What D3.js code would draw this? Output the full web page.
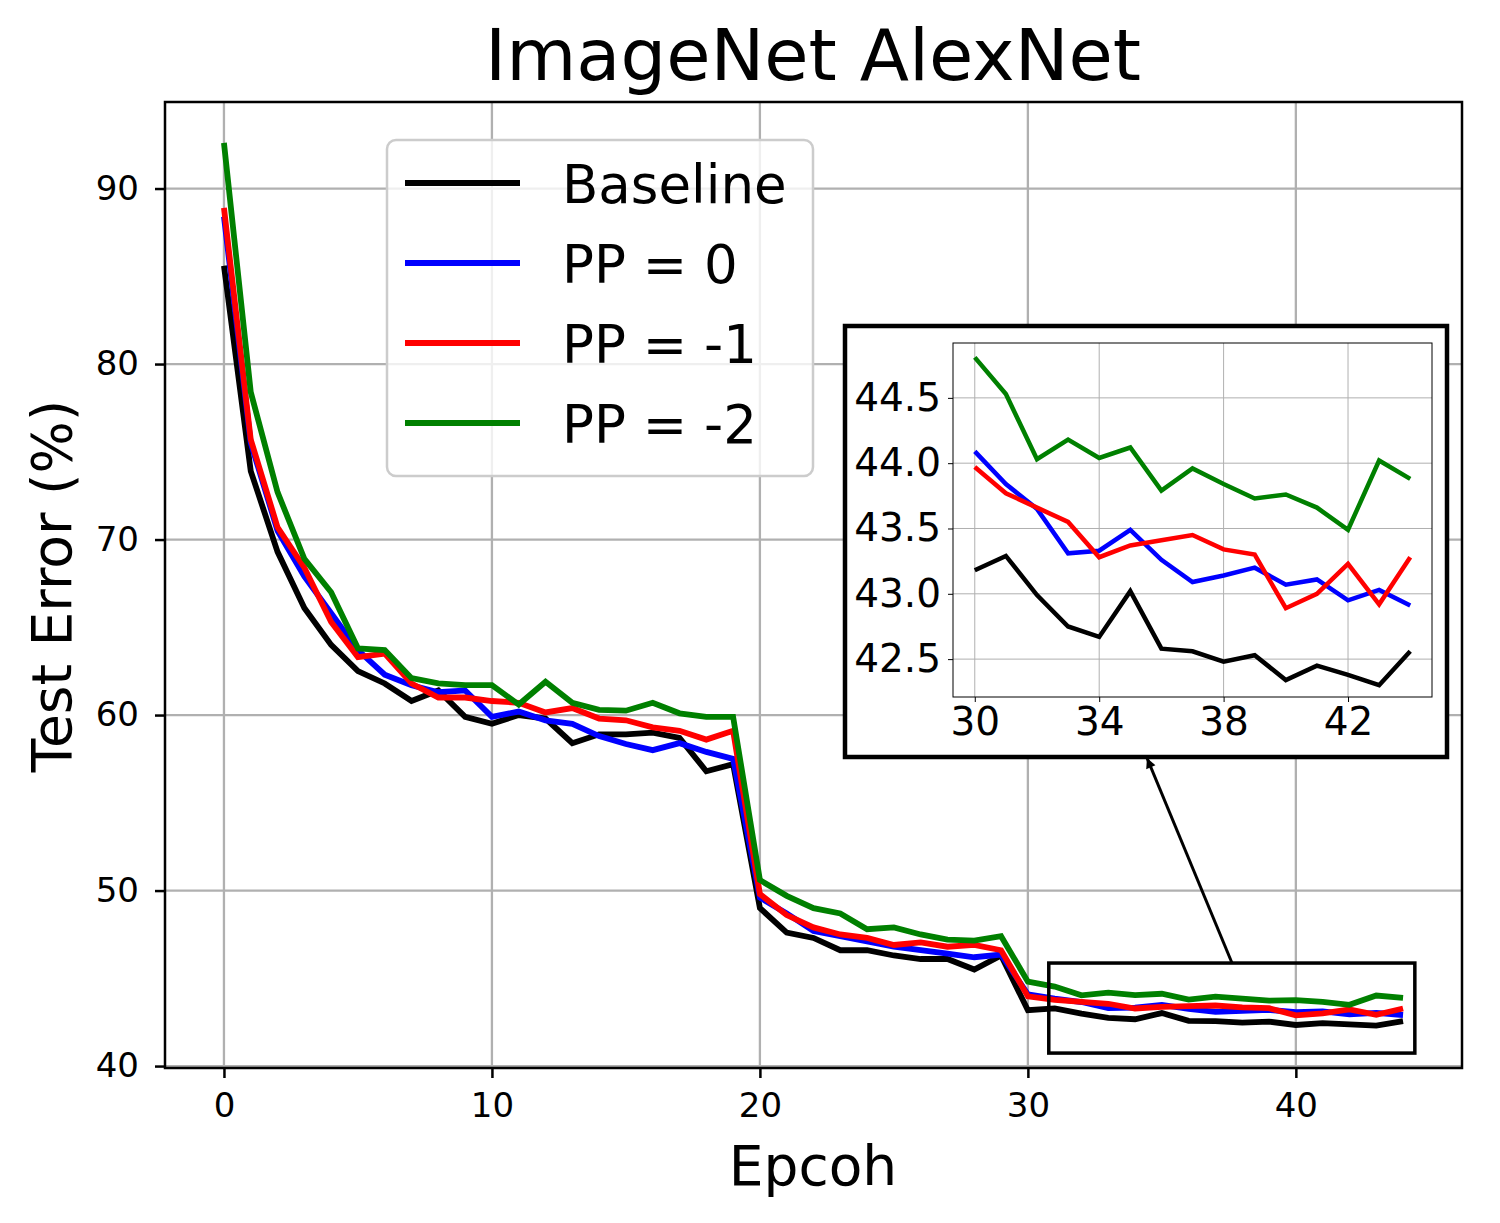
<!DOCTYPE html>
<html>
<head>
<meta charset="utf-8">
<script src="https://cdn.jsdelivr.net/npm/d3@7"></script>
<style>
  body { margin: 0; background: #fff; }
  text { font-family: "DejaVu Sans", sans-serif; }
</style>
</head>
<body>
<div id="chart"></div>
<script>
// ---- data ----
const epochs = d3.range(0, 45);
const baseline = [85.6, 73.9, 69.3, 66.1, 64.0, 62.5, 61.8, 60.8, 61.4, 59.9,
  59.5, 60.0, 59.8, 58.4, 58.9, 58.9, 59.0, 58.7, 56.8, 57.2,
  49.0, 47.6, 47.3, 46.6, 46.6, 46.3, 46.1, 46.1, 45.5, 46.3,
  43.18, 43.29, 42.99, 42.75, 42.67, 43.02, 42.58, 42.56, 42.48, 42.53,
  42.34, 42.45, 42.38, 42.30, 42.56];
const pp0 = [88.4, 75.5, 70.5, 67.9, 65.8, 63.7, 62.3, 61.7, 61.3, 61.4,
  59.9, 60.2, 59.7, 59.5, 58.8, 58.35, 58.0, 58.4, 57.9, 57.5,
  49.6, 48.7, 47.7, 47.4, 47.1, 46.8, 46.6, 46.4, 46.2, 46.35,
  44.09, 43.84, 43.65, 43.31, 43.33, 43.49, 43.26, 43.09, 43.14, 43.20,
  43.07, 43.11, 42.95, 43.03, 42.91];
const ppm1 = [88.9, 75.7, 70.7, 68.4, 65.3, 63.3, 63.5, 61.8, 61.0, 61.0,
  60.8, 60.7, 60.15, 60.4, 59.8, 59.7, 59.3, 59.1, 58.6, 59.1,
  49.8, 48.6, 47.9, 47.5, 47.3, 46.9, 47.05, 46.8, 46.9, 46.6,
  43.97, 43.77, 43.66, 43.55, 43.28, 43.37, 43.41, 43.45, 43.34, 43.30,
  42.89, 43.00, 43.23, 42.92, 43.28];
const ppm2 = [92.6, 78.4, 72.7, 68.9, 67.0, 63.8, 63.7, 62.1, 61.8, 61.7,
  61.7, 60.6, 61.9, 60.7, 60.3, 60.25, 60.7, 60.1, 59.9, 59.9,
  50.6, 49.7, 49.0, 48.7, 47.8, 47.9, 47.5, 47.2, 47.15, 47.4,
  44.81, 44.53, 44.03, 44.18, 44.04, 44.12, 43.79, 43.96, 43.84, 43.73,
  43.76, 43.66, 43.49, 44.02, 43.88];

const seriesNames = ["Baseline", "PP = 0", "PP = -1", "PP = -2"];
const seriesColors = ["black", "blue", "red", "green"];
const seriesValues = [baseline, pp0, ppm1, ppm2];

const xTicks = [0, 10, 20, 30, 40];
const yTicks = [40, 50, 60, 70, 80, 90];
const insetXTicks = [30, 34, 38, 42];
const insetYTicks = [42.5, 43.0, 43.5, 44.0, 44.5];
const zoomBox = [30.78, 44.44, 40.74, 45.87]; // x0, x1, y0, y1

// ---- layout ----
const W = 1500, H = 1223;
const svg = d3.select("#chart").append("svg")
  .attr("width", W).attr("height", H);

const plot = {left: 165, right: 1462, top: 102, bottom: 1068};
const x = d3.scaleLinear().domain([-2.2, 46.2]).range([plot.left, plot.right]);
const y = d3.scaleLinear().domain([39.89, 94.93]).range([plot.bottom, plot.top]);

// grid
const grid = svg.append("g");
grid.selectAll(".gx").data(xTicks).join("line")
  .attr("x1", d => x(d)).attr("x2", d => x(d))
  .attr("y1", plot.top).attr("y2", plot.bottom)
  .attr("stroke", "#b0b0b0").attr("stroke-width", 2.3);
grid.selectAll(".gy").data(yTicks).join("line")
  .attr("x1", plot.left).attr("x2", plot.right)
  .attr("y1", d => y(d)).attr("y2", d => y(d))
  .attr("stroke", "#b0b0b0").attr("stroke-width", 2.3);

// axes
const xAxis = svg.append("g")
  .attr("transform", `translate(0,${plot.bottom})`)
  .call(d3.axisBottom(x).tickValues(xTicks).tickSize(10).tickPadding(15));
const yAxis = svg.append("g")
  .attr("transform", `translate(${plot.left},0)`)
  .call(d3.axisLeft(y).tickValues(yTicks).tickSize(10).tickPadding(16));
[xAxis, yAxis].forEach(a => {
  a.select(".domain").remove();
  a.selectAll("line").attr("stroke", "black").attr("stroke-width", 2.5);
  a.selectAll("text").attr("font-size", 34).attr("fill", "black")
    .style("font-family", "DejaVu Sans");
});

// lines
const line = d3.line().x((d, i) => x(epochs[i])).y(d => y(d));
svg.append("g").selectAll("path").data(seriesValues).join("path")
  .attr("d", line)
  .attr("fill", "none")
  .attr("stroke", (d, i) => seriesColors[i])
  .attr("stroke-width", 5.8)
  .attr("stroke-linejoin", "miter")
  .attr("stroke-miterlimit", 3);

// frame
svg.append("rect")
  .attr("x", plot.left).attr("y", plot.top)
  .attr("width", plot.right - plot.left).attr("height", plot.bottom - plot.top)
  .attr("fill", "none").attr("stroke", "black").attr("stroke-width", 2.5);

// zoom rectangle in main plot
svg.append("rect")
  .attr("x", x(zoomBox[0])).attr("y", y(zoomBox[3]))
  .attr("width", x(zoomBox[1]) - x(zoomBox[0]))
  .attr("height", y(zoomBox[2]) - y(zoomBox[3]))
  .attr("fill", "none").attr("stroke", "black").attr("stroke-width", 3.5);

// arrow from zoom box to inset
svg.append("defs").append("marker")
  .attr("id", "arrowhead")
  .attr("viewBox", "0 0 10 10").attr("refX", 10).attr("refY", 5)
  .attr("markerWidth", 12).attr("markerHeight", 10)
  .attr("markerUnits", "userSpaceOnUse")
  .attr("orient", "auto")
  .append("path").attr("d", "M0,0 L10,5 L0,10 Z").attr("fill", "black");
svg.append("line")
  .attr("x1", 1232).attr("y1", y(zoomBox[3]))
  .attr("x2", 1147).attr("y2", 758)
  .attr("stroke", "black").attr("stroke-width", 3)
  .attr("marker-end", "url(#arrowhead)");

// labels
svg.append("text").attr("x", 813).attr("y", 80)
  .attr("text-anchor", "middle").attr("font-size", 72).text("ImageNet AlexNet");
svg.append("text").attr("x", 813).attr("y", 1185)
  .attr("text-anchor", "middle").attr("font-size", 55).text("Epcoh");
svg.append("text")
  .attr("transform", "translate(71,586) rotate(-90)")
  .attr("text-anchor", "middle").attr("font-size", 55).text("Test Error (%)");

// legend
const legend = svg.append("g");
legend.append("rect")
  .attr("x", 387).attr("y", 140).attr("width", 426).attr("height", 336)
  .attr("rx", 9)
  .attr("fill", "white").attr("fill-opacity", 0.8)
  .attr("stroke", "#cccccc").attr("stroke-width", 2.5);
const items = legend.selectAll(".item").data(seriesNames).join("g")
  .attr("transform", (d, i) => `translate(0,${183 + i * 80})`);
items.append("line")
  .attr("x1", 405).attr("x2", 520)
  .attr("stroke", (d, i) => seriesColors[i]).attr("stroke-width", 5.8);
items.append("text")
  .attr("x", 562).attr("y", 20).attr("font-size", 53)
  .text(d => d);

// inset
svg.append("rect")
  .attr("x", 845).attr("y", 326).attr("width", 602).attr("height", 431)
  .attr("fill", "white").attr("stroke", "black").attr("stroke-width", 4.5);

const ip = {left: 953, right: 1432, top: 343, bottom: 697};
const ix = d3.scaleLinear().domain([29.3, 44.7]).range([ip.left, ip.right]);
const iy = d3.scaleLinear().domain([42.21, 44.92]).range([ip.bottom, ip.top]);

const ig = svg.append("g");
ig.selectAll(".igx").data(insetXTicks).join("line")
  .attr("x1", d => ix(d)).attr("x2", d => ix(d))
  .attr("y1", ip.top).attr("y2", ip.bottom)
  .attr("stroke", "#b0b0b0").attr("stroke-width", 1);
ig.selectAll(".igy").data(insetYTicks).join("line")
  .attr("x1", ip.left).attr("x2", ip.right)
  .attr("y1", d => iy(d)).attr("y2", d => iy(d))
  .attr("stroke", "#b0b0b0").attr("stroke-width", 1);

const ixAxis = svg.append("g")
  .attr("transform", `translate(0,${ip.bottom})`)
  .call(d3.axisBottom(ix).tickValues(insetXTicks).tickSize(5).tickPadding(5));
const iyAxis = svg.append("g")
  .attr("transform", `translate(${ip.left},0)`)
  .call(d3.axisLeft(iy).tickValues(insetYTicks).tickFormat(d3.format(".1f"))
    .tickSize(5).tickPadding(7));
[ixAxis, iyAxis].forEach(a => {
  a.select(".domain").remove();
  a.selectAll("line").attr("stroke", "black").attr("stroke-width", 1);
  a.selectAll("text").attr("font-size", 39).attr("fill", "black")
    .style("font-family", "DejaVu Sans");
});

const insetIdx = d3.range(30, 45);
const iline = d3.line().x(d => ix(d[0])).y(d => iy(d[1]));
ig.selectAll("path").data(seriesValues).join("path")
  .attr("d", vals => iline(insetIdx.map(e => [e, vals[e]])))
  .attr("fill", "none")
  .attr("stroke", (d, i) => seriesColors[i])
  .attr("stroke-width", 4.5);

svg.append("rect")
  .attr("x", ip.left).attr("y", ip.top)
  .attr("width", ip.right - ip.left).attr("height", ip.bottom - ip.top)
  .attr("fill", "none").attr("stroke", "black").attr("stroke-width", 1);
</script>
</body>
</html>
